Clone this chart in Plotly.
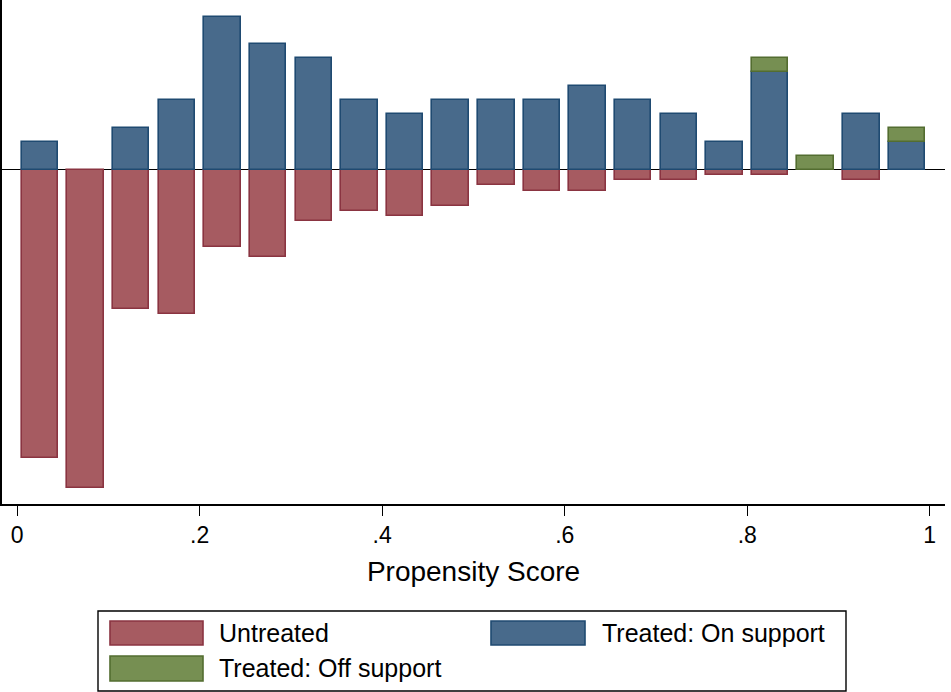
import plotly.graph_objects as go

# Bin midpoints of the propensity score histogram (bin width 0.05)
bin_mid = [0.025, 0.075, 0.125, 0.175, 0.225, 0.275, 0.325, 0.375, 0.425, 0.475,
           0.525, 0.575, 0.625, 0.675, 0.725, 0.775, 0.825, 0.875, 0.925, 0.975]

# Counts per bin
untreated = [56, 62, 27, 28, 15, 17, 10, 8, 9, 7, 3, 4, 4, 2, 2, 1, 1, 0, 2, 0]
treated_on = [2, 0, 3, 5, 11, 9, 8, 5, 4, 5, 5, 5, 6, 5, 4, 2, 7, 0, 4, 2]
treated_off = [0, 0, 0, 0, 0, 0, 0, 0, 0, 0, 0, 0, 0, 0, 0, 0, 1, 1, 0, 1]

tick_vals = [0, 0.2, 0.4, 0.6, 0.8, 1]
tick_text = ["0", ".2", ".4", ".6", ".8", "1"]

n_u = sum(untreated)
n_t = sum(treated_on) + sum(treated_off)


def dens(counts, total, sign=1):
    # density per group; empty bins are not drawn
    return [sign * c / total if c else None for c in counts]


dens_u = dens(untreated, n_u, -1)
dens_on = dens(treated_on, n_t)
dens_off = dens(treated_off, n_t)

RED, RED_L = "#a65b61", "#8a3441"
BLUE, BLUE_L = "#486a8b", "#1f4a71"
GREEN, GREEN_L = "#768f52", "#536d30"
LW = 1.6

fig = go.Figure()
fig.add_bar(x=bin_mid, y=dens_u, width=0.04, name="Untreated",
            marker=dict(color=RED, line=dict(color=RED_L, width=LW)))
fig.add_bar(x=bin_mid, y=dens_on, width=0.04, name="Treated: On support",
            marker=dict(color=BLUE, line=dict(color=BLUE_L, width=LW)))
fig.add_bar(x=bin_mid, y=dens_off, width=0.04, name="Treated: Off support",
            marker=dict(color=GREEN, line=dict(color=GREEN_L, width=LW)))

W, H = 951, 692
L, R, T, B = 2, 6, 0, 188
PW, PH = W - L - R, H - T - B


def px(x):
    return (x - L) / PW


def py(y):
    return (H - B - y) / PH


FONT = "Liberation Sans, Arial, sans-serif"
LEG_FS = 25
shapes = [
    dict(type="rect", xref="paper", yref="paper", x0=px(98), x1=px(846), y0=py(611), y1=py(691),
         line=dict(color="black", width=1.4), fillcolor="white"),
    dict(type="rect", xref="paper", yref="paper", x0=px(110), x1=px(203), y0=py(621), y1=py(645),
         line=dict(color=RED_L, width=LW), fillcolor=RED),
    dict(type="rect", xref="paper", yref="paper", x0=px(491), x1=px(585), y0=py(621), y1=py(645),
         line=dict(color=BLUE_L, width=LW), fillcolor=BLUE),
    dict(type="rect", xref="paper", yref="paper", x0=px(110), x1=px(203), y0=py(656), y1=py(681),
         line=dict(color=GREEN_L, width=LW), fillcolor=GREEN),
]
annotations = [
    dict(text="Untreated", x=px(217), y=py(633), xref="paper", yref="paper",
         xanchor="left", yanchor="middle", showarrow=False, font=dict(size=LEG_FS, color="black", family=FONT)),
    dict(text="Treated: On support", x=px(600), y=py(633), xref="paper", yref="paper",
         xanchor="left", yanchor="middle", showarrow=False, font=dict(size=LEG_FS, color="black", family=FONT)),
    dict(text="Treated: Off support", x=px(217), y=py(668), xref="paper", yref="paper",
         xanchor="left", yanchor="middle", showarrow=False, font=dict(size=LEG_FS, color="black", family=FONT)),
]

fig.update_layout(
    template="none",
    width=W, height=H,
    margin=dict(l=L, r=R, t=T, b=B, pad=0, autoexpand=False),
    paper_bgcolor="white", plot_bgcolor="white",
    barmode="relative", bargap=0,
    showlegend=False,
    font=dict(family=FONT, color="black"),
    shapes=shapes, annotations=annotations,
    xaxis=dict(range=[-0.0166, 1.0167], tickvals=tick_vals, ticktext=tick_text,
               automargin=False,
               ticks="outside", ticklen=10, tickwidth=1.4, tickcolor="black",
               showline=True, linecolor="black", linewidth=1.6, mirror=False,
               showgrid=False, zeroline=False,
               tickfont=dict(size=23, color="black"),
               title=dict(text="Propensity Score", font=dict(size=28, color="black"), standoff=14)),
    yaxis=dict(range=[-0.2521, 0.1283], showticklabels=False, ticks="", automargin=False,
               showline=True, linecolor="black", linewidth=1.6,
               showgrid=False, zeroline=True, zerolinecolor="black", zerolinewidth=1.4),
)

fig.write_html("out.html", config={"displayModeBar": False},
               post_script="document.body.style.margin='0';document.body.style.padding='0';")
